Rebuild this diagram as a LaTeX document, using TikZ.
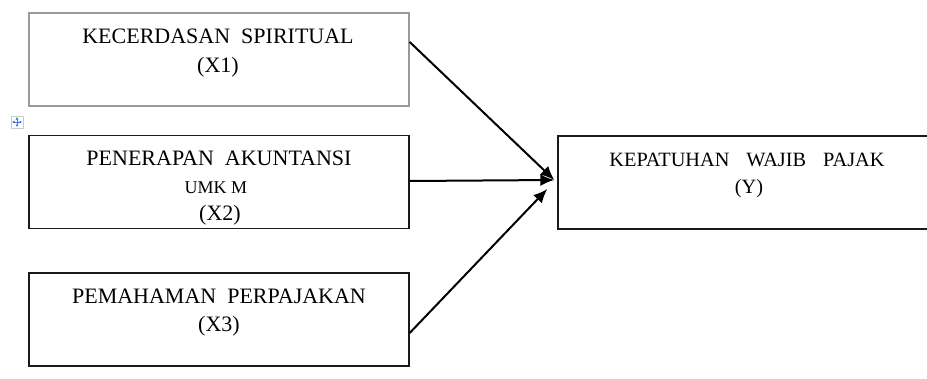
\documentclass[tikz,border=0pt]{standalone}
\usepackage{fontspec}
\setmainfont{Liberation Serif}
\usetikzlibrary{arrows.meta,calc}
\definecolor{inkc}{HTML}{1A1A1A}
\definecolor{grayb}{HTML}{9A9A9A}
\definecolor{iconblue}{HTML}{3C78D8}
\tikzset{
  varbox/.style={draw=inkc, line width=1.4pt, rectangle, inner sep=0pt, minimum width=380pt, minimum height=93pt},
  lbl/.style={anchor=base, inner sep=0pt, text=black, font=\fontsize{22}{24}\selectfont},
  lblsmall/.style={anchor=base, inner sep=0pt, text=black, font=\fontsize{18}{20}\selectfont},
  lbly/.style={anchor=base, inner sep=0pt, text=black, font=\fontsize{20.3}{22}\selectfont},
  conn/.style={draw=black, line width=2pt, -{Latex[length=14pt,width=12pt]}},
}
\begin{document}
\begin{tikzpicture}[x=1pt,y=-1pt]
\useasboundingbox (0,0) rectangle (927,378);
\fill[white] (0,0) rectangle (927,378);

% boxes
\node[varbox, draw=grayb] (x1) at (219,59.5) {};
\node[varbox] (x2) at (219,182) {};
\node[varbox] (x3) at (219,319.5) {};
\begin{scope}
\clip (0,0) rectangle (927,378);
\node[varbox, minimum width=378pt] (y) at (747,182.5) {};
\end{scope}

% labels
\node[lbl] (t1a) at (218,43) {KECERDASAN\ \ SPIRITUAL};
\node[lbl] (t1b) at (218,72) {(X1)};
\node[lbl] (t2a) at (219,165) {PENERAPAN\ \ AKUNTANSI};
\node[lblsmall] (t2b) at (216,193) {UMK M};
\node[lbl] (t2c) at (220,220) {(X2)};
\node[lbl] (t3a) at (219,303) {PEMAHAMAN\ \ PERPAJAKAN};
\node[lbl] (t3b) at (219,331) {(X3)};
\node[lbly] (tya) at (747,166) {KEPATUHAN\hspace{17pt}WAJIB\hspace{17pt}PAJAK};
\node[lbly] (tyb) at (749,193) {(Y)};

% move-handle icon
\node[draw=gray!40, line width=0.6pt, minimum width=12pt, minimum height=12pt, inner sep=0pt] (icon) at (17,122) {};
\draw[iconblue, line width=1pt, {Latex[length=2.5pt,width=3pt]}-{Latex[length=2.5pt,width=3pt]}] ([xshift=-5pt]icon.center) -- ([xshift=5pt]icon.center);
\draw[iconblue, line width=1pt, {Latex[length=2.5pt,width=3pt]}-{Latex[length=2.5pt,width=3pt]}] ([yshift=-5pt]icon.center) -- ([yshift=5pt]icon.center);

% connectors
\coordinate (s1) at ([yshift=17.5pt]x1.east);
\coordinate (s2) at ([yshift=1pt]x2.east);
\coordinate (s3) at ([yshift=-13.5pt]x3.east);
\coordinate (e1) at ([xshift=-3pt,yshift=2.5pt]y.west);
\coordinate (e3) at ([xshift=-10pt,yshift=-6.5pt]y.west);
\draw[conn] (s1) -- (e1);
\draw[conn] (s2) -- (e1);
\draw[conn] (s3) -- (e3);
\end{tikzpicture}
\end{document}
